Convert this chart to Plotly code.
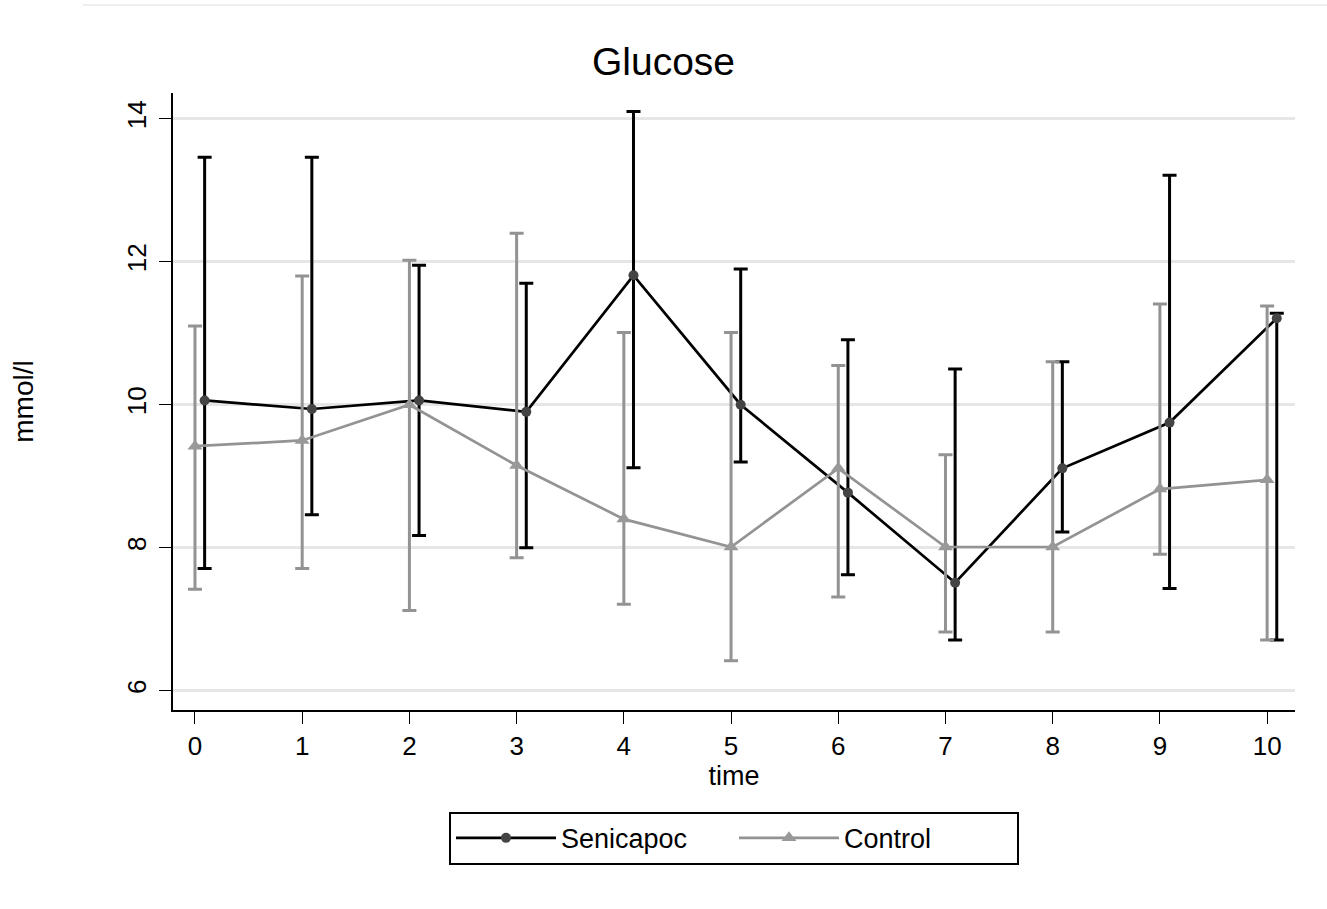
import plotly.graph_objects as go

time = [0, 1, 2, 3, 4, 5, 6, 7, 8, 9, 10]

# Senicapoc: mean, upper and lower error limits (mmol/l)
sen_mean = [10.06, 9.94, 10.06, 9.90, 11.81, 10.00, 8.77, 7.51, 9.11, 9.75, 11.21]
sen_upper = [13.46, 13.46, 11.95, 11.70, 14.10, 11.90, 10.91, 10.50, 10.60, 13.21, 11.28]
sen_lower = [7.71, 8.46, 8.17, 8.00, 9.12, 9.20, 7.62, 6.71, 8.22, 7.43, 6.71]

# Control
con_mean = [9.42, 9.50, 10.00, 9.15, 8.40, 8.01, 9.11, 8.01, 8.01, 8.82, 8.95]
con_upper = [11.10, 11.80, 12.02, 12.40, 11.01, 11.01, 10.55, 9.30, 10.60, 11.41, 11.38]
con_lower = [7.42, 7.71, 7.12, 7.86, 7.21, 6.42, 7.31, 6.82, 6.82, 7.91, 6.71]

y_ticks = [6, 8, 10, 12, 14]
x_ticks = time

sen_offset = 0.09
FONT = "Arial, Liberation Sans, sans-serif"

fig = go.Figure()

fig.add_trace(go.Scatter(
    x=[t + sen_offset for t in time], y=sen_mean,
    mode="lines+markers", name="Senicapoc",
    line=dict(color="black", width=2.7),
    marker=dict(symbol="circle", size=10, color="#444444"),
    error_y=dict(type="data", symmetric=False,
                 array=[u - m for u, m in zip(sen_upper, sen_mean)],
                 arrayminus=[m - l for m, l in zip(sen_mean, sen_lower)],
                 color="black", thickness=3, width=7),
))

fig.add_trace(go.Scatter(
    x=time, y=con_mean,
    mode="lines+markers", name="Control",
    line=dict(color="#939393", width=2.7),
    marker=dict(symbol="triangle-up", size=13, color="#999999"),
    error_y=dict(type="data", symmetric=False,
                 array=[u - m for u, m in zip(con_upper, con_mean)],
                 arrayminus=[m - l for m, l in zip(con_mean, con_lower)],
                 color="#939393", thickness=3, width=7),
))

fig.update_layout(
    width=1327, height=909,
    margin=dict(l=173, r=32, t=93, b=199),
    paper_bgcolor="white", plot_bgcolor="white",
    font=dict(family=FONT, color="black", size=25),
    title=dict(text="Glucose", x=0.5, xanchor="center", y=0.932, yanchor="middle",
               font=dict(size=39, family=FONT, color="black")),
    showlegend=True,
    legend=dict(orientation="h", x=0.5, xanchor="center", y=-0.165, yanchor="top",
                bordercolor="black", borderwidth=2, bgcolor="white",
                font=dict(size=27, family=FONT), itemwidth=100,
                entrywidth=168, entrywidthmode="pixels",
                traceorder="normal"),
    shapes=[dict(type="line", xref="paper", yref="paper",
                 x0=-0.0802, x1=1.0285, y0=1.1426, y1=1.1426,
                 line=dict(color="#eeeeee", width=2))],
)

fig.update_xaxes(
    range=[-0.205, 10.26], tickmode="array", tickvals=x_ticks,
    ticks="outside", ticklen=12, tickwidth=1.2, tickcolor="black",
    showline=True, linecolor="black", linewidth=1.5, mirror=False,
    showgrid=False, zeroline=False,
    tickfont=dict(size=26, family=FONT),
    title=dict(text="time", font=dict(size=27, family=FONT), standoff=2),
)

fig.update_yaxes(
    range=[5.73, 14.36], tickmode="array", tickvals=y_ticks,
    ticks="outside", ticklen=12, tickwidth=1.2, tickcolor="black",
    showline=True, linecolor="black", linewidth=1.5, mirror=False,
    showgrid=True, gridcolor="#e6e6e6", gridwidth=2.5, zeroline=False,
    tickangle=-90, ticklabelstandoff=3,
    tickfont=dict(size=26, family=FONT),
    title=dict(text="mmol/l", font=dict(size=28, family=FONT), standoff=80),
)

fig.write_html("out.html")
